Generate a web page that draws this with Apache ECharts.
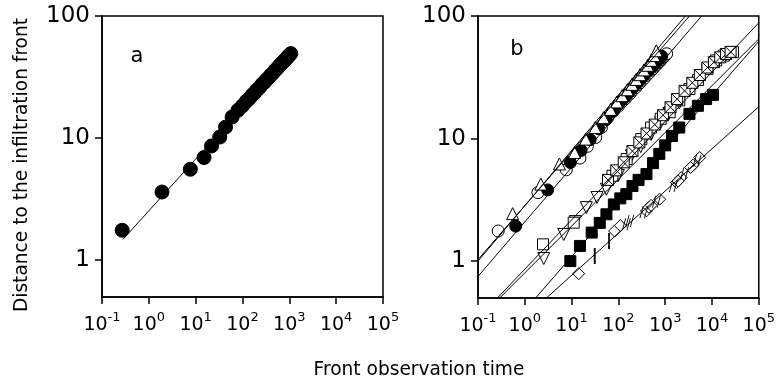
<!DOCTYPE html>
<html><head><meta charset="utf-8">
<script src="https://cdn.jsdelivr.net/npm/echarts@6/dist/echarts.min.js"></script>
<style>html,body{margin:0;padding:0;background:#fff}#c{width:778px;height:388px}</style>
</head><body><div id="c"></div>
<script>
// ---------- tick labels ----------
const xTickValues = [0.1, 1, 10, 100, 1000, 10000, 100000];
const xTickExponents = ['-1', '0', '1', '2', '3', '4', '5'];
const yTickValues = [1, 10, 100];
const yTickLabels = ['1', '10', '100'];
const xTitle = 'Front observation time';
const yTitle = 'Distance to the infiltration front';
const panelLabels = ['a', 'b'];

// ---------- panel a ----------
const aTime = [0.27, 1.91, 7.7, 15.1, 21.8, 32.7, 43.4, 60, 80, 100, 120, 140, 160, 180, 200, 230, 260, 290, 320, 360, 400, 450, 500, 550, 600, 650, 700, 750, 800, 850, 900, 950, 1000, 1076];
const aDist = [1.76, 3.62, 5.56, 6.93, 8.63, 10.2, 12.3, 14.9, 16.9, 18.4, 20.0, 21.1, 22.5, 23.4, 24.7, 25.9, 27.5, 28.5, 29.9, 31.2, 32.8, 34.2, 36.0, 37.2, 38.8, 39.9, 41.3, 42.3, 43.6, 44.5, 45.8, 46.6, 47.8, 49.2];
const aFit = [[0.28, 1.48], [1000, 47.5]];

// ---------- panel b : fast group ----------
const bOpenCircle = aTime.map((t, i) => [t, aDist[i]]);
const bFilledCircle = [[0.64,1.93],[3.08,3.81],[9.4,6.38],[16,8.0],[25,9.8],[38,12.0],[55,14.3],[75,16.6],[100,19.0],[130,21.3],[165,23.6],[205,26.0],[250,28.3],[300,30.6],[360,33.0],[420,35.3],[490,37.6],[570,40.0],[650,42.3],[740,44.6],[840,47.0]];
const bTriUp = [[0.55,2.44],[2.2,4.25],[5.5,6.2],[11.6,7.7],[20,9.9],[32,12.3],[48,14.8],[68,17.3],[92,19.9],[120,22.4],[155,25.0],[195,27.7],[240,30.4],[290,33.2],[350,36.3],[420,39.6],[500,43.5],[580,47.5],[646,52.0]];
// ---------- panel b : middle group ----------
const bOpenSquare = [[2.45,1.37],[11.1,2.06],[74.5,4.97],[150,6.8],[309,9.9],[500,12.3],[800,14.5],[1250,16.4],[2000,20.5],[3300,25.4],[5000,30],[8000,37],[12300,43.4],[18000,47.5],[28100,50.7]];
const bTriDown = [[2.54,1.05],[6.8,1.65],[12,2.1],[20.7,2.73],[35,3.3],[55.5,3.86],[100,5.0],[190,7.24],[300,8.6],[500,10.8],[800,13.5],[1200,16],[2000,19.5]];
const bCrossSquare = [[60,4.6],[90,5.5],[130,6.4],[200,7.9],[280,9.3],[400,11],[600,13],[900,15.5],[1300,18],[1800,21],[2600,24.5],[3800,28.5],[5500,33],[8000,38],[11000,42],[15000,46],[20000,49],[25000,51]];
const bFilledSquare = [[9.4,1.0],[15.1,1.33],[26.9,1.71],[40,2.05],[55.5,2.41],[80,2.9],[110,3.25],[148,3.52],[200,4.1],[270,4.6],[398,5.13],[550,6.3],[750,7.5],[1000,8.8],[1400,10.5],[2000,12.3],[3300,15.9],[5000,18.5],[7500,21],[10500,22.7]];
// ---------- panel b : slow group ----------
const bDiamond = [[14.2,0.79],[83,1.76],[110,1.95],[398,2.57],[450,2.75],[760,3.2],[1740,4.38],[2200,4.8],[4000,6.1],[5460,7.0]];
const bBar = [[31.2,1.1],[63,1.46]];
const bSlash = [[148,2.0],[175,2.12],[350,2.5],[650,3.05],[1500,4.1],[2600,5.2],[4800,6.6]];
const bCrossDiamond = [[500,2.85],[1900,4.5],[3500,5.8]];
// ---------- panel b : fitted lines ----------
const bFitLines = [
  [[0.1,1.0],[2700,100]],
  [[0.1,1.03],[3300,100]],
  [[0.1,0.75],[6000,100]],
  [[0.26,0.5],[100000,88]],
  [[0.29,0.5],[100000,65]],
  [[1.7,0.5],[100000,62]],
  [[2.9,0.5],[100000,18.2]]
];

const FONT = 'DejaVu Sans';
const chart = echarts.init(document.getElementById('c'), null, {renderer: 'canvas'});

function xFmt(v) {
  let idx = 0, best = 1e9;
  xTickValues.forEach((t, i) => { const d = Math.abs(Math.log10(t) - Math.log10(v)); if (d < best) { best = d; idx = i; } });
  return '{b|10}{s|' + xTickExponents[idx] + '}';
}
function yFmt(v) {
  let idx = 0, best = 1e9;
  yTickValues.forEach((t, i) => { const d = Math.abs(Math.log10(t) - Math.log10(v)); if (d < best) { best = d; idx = i; } });
  return yTickLabels[idx];
}

function xAxis(gi) {
  return {
    type: 'log', logBase: 10, gridIndex: gi, min: 0.1, max: 100000,
    axisLine: {show: true, lineStyle: {color: '#000', width: 1.5}},
    axisTick: {show: true, inside: false, length: 7, lineStyle: {color: '#000', width: 1.5}, customValues: xTickValues},
    axisLabel: {show: true, margin: 14, customValues: xTickValues, formatter: xFmt,
      rich: {
        b: {fontFamily: FONT, fontSize: 19, color: '#000', lineHeight: 24, verticalAlign: 'bottom'},
        s: {fontFamily: FONT, fontSize: 13, color: '#000', lineHeight: 13, verticalAlign: 'top'}
      }},
    splitLine: {show: false}, minorTick: {show: false}
  };
}
function yAxis(gi) {
  return {
    type: 'log', logBase: 10, gridIndex: gi, min: 0.5, max: 100,
    axisLine: {show: true, lineStyle: {color: '#000', width: 1.5}},
    axisTick: {show: true, inside: false, length: 7, lineStyle: {color: '#000', width: 1.5}, customValues: yTickValues},
    axisLabel: {show: true, margin: 12, customValues: yTickValues, formatter: yFmt,
      fontFamily: FONT, fontSize: 23, color: '#000'},
    splitLine: {show: false}, minorTick: {show: false}
  };
}

const openStyle = {color: '#fff', borderColor: '#000', borderWidth: 1, opacity: 1};
const filledStyle = {color: '#000', borderColor: '#000', borderWidth: 1, opacity: 1};
function scat(data, symbol, size, style, extra) {
  return Object.assign({type: 'scatter', xAxisIndex: 1, yAxisIndex: 1, data: data, symbol: symbol, symbolSize: size,
    itemStyle: style, silent: true, animation: false, z: 3}, extra || {});
}

const series = [];
// panel a
series.push({type: 'scatter', xAxisIndex: 0, yAxisIndex: 0, data: aTime.map((t, i) => [t, aDist[i]]),
  symbol: 'circle', symbolSize: 14, itemStyle: filledStyle, animation: false, z: 3});
series.push({type: 'line', xAxisIndex: 0, yAxisIndex: 0, data: aFit, symbol: 'none',
  lineStyle: {color: '#000', width: 1}, animation: false, z: 2});
// panel b markers
series.push(scat(bDiamond, 'diamond', 12, openStyle));
series.push(scat(bCrossDiamond, 'path://M5,0L10,5L5,10L0,5Z M2,8L8,2', 12, openStyle));
series.push(scat(bBar, 'rect', [1.5, 13], filledStyle));
series.push(scat(bSlash, 'path://M0,10L3,0 M4,10L7,0', [8, 12], {color: 'rgba(0,0,0,0)', borderColor: '#000', borderWidth: 1, opacity: 1}));
series.push(scat(bFilledSquare, 'rect', 11, filledStyle));
series.push(scat(bTriDown, 'triangle', 12, openStyle, {symbolRotate: 180}));
series.push(scat(bOpenSquare, 'rect', 11, openStyle));
series.push(scat(bCrossSquare, 'path://M0,0L10,0L10,10L0,10Z M0,0L10,10 M10,0L0,10', 11, openStyle));
series.push(scat(bOpenCircle, 'circle', 12, openStyle));
series.push(scat(bFilledCircle, 'circle', 12, filledStyle));
series.push(scat(bTriUp, 'triangle', 12, openStyle));
bFitLines.forEach(l => series.push({type: 'line', xAxisIndex: 1, yAxisIndex: 1, data: l, symbol: 'none',
  lineStyle: {color: '#000', width: 1}, animation: false, z: 4}));

chart.setOption({
  animation: false,
  backgroundColor: '#fff',
  grid: [
    {left: 102, top: 16, width: 281, height: 281, show: true, borderColor: '#000', borderWidth: 1.5, containLabel: false},
    {left: 478, top: 16, width: 281, height: 282, show: true, borderColor: '#000', borderWidth: 1.5, containLabel: false}
  ],
  xAxis: [xAxis(0), xAxis(1)],
  yAxis: [yAxis(0), yAxis(1)],
  series: series,
  graphic: [
    {type: 'text', x: 137, y: 57, style: {text: panelLabels[0], fontFamily: FONT, fontSize: 21, fill: '#000', align: 'center', verticalAlign: 'middle'}},
    {type: 'text', x: 517, y: 50, style: {text: panelLabels[1], fontFamily: FONT, fontSize: 21, fill: '#000', align: 'center', verticalAlign: 'middle'}},
    {type: 'text', x: 419, y: 370, style: {text: xTitle, fontFamily: FONT, fontSize: 18.6, fill: '#000', align: 'center', verticalAlign: 'middle'}},
    {type: 'text', x: 22, y: 165, rotation: Math.PI / 2, style: {text: yTitle, fontFamily: FONT, fontSize: 18.6, fill: '#000', align: 'center', verticalAlign: 'middle'}}
  ]
});
</script>
</body></html>
